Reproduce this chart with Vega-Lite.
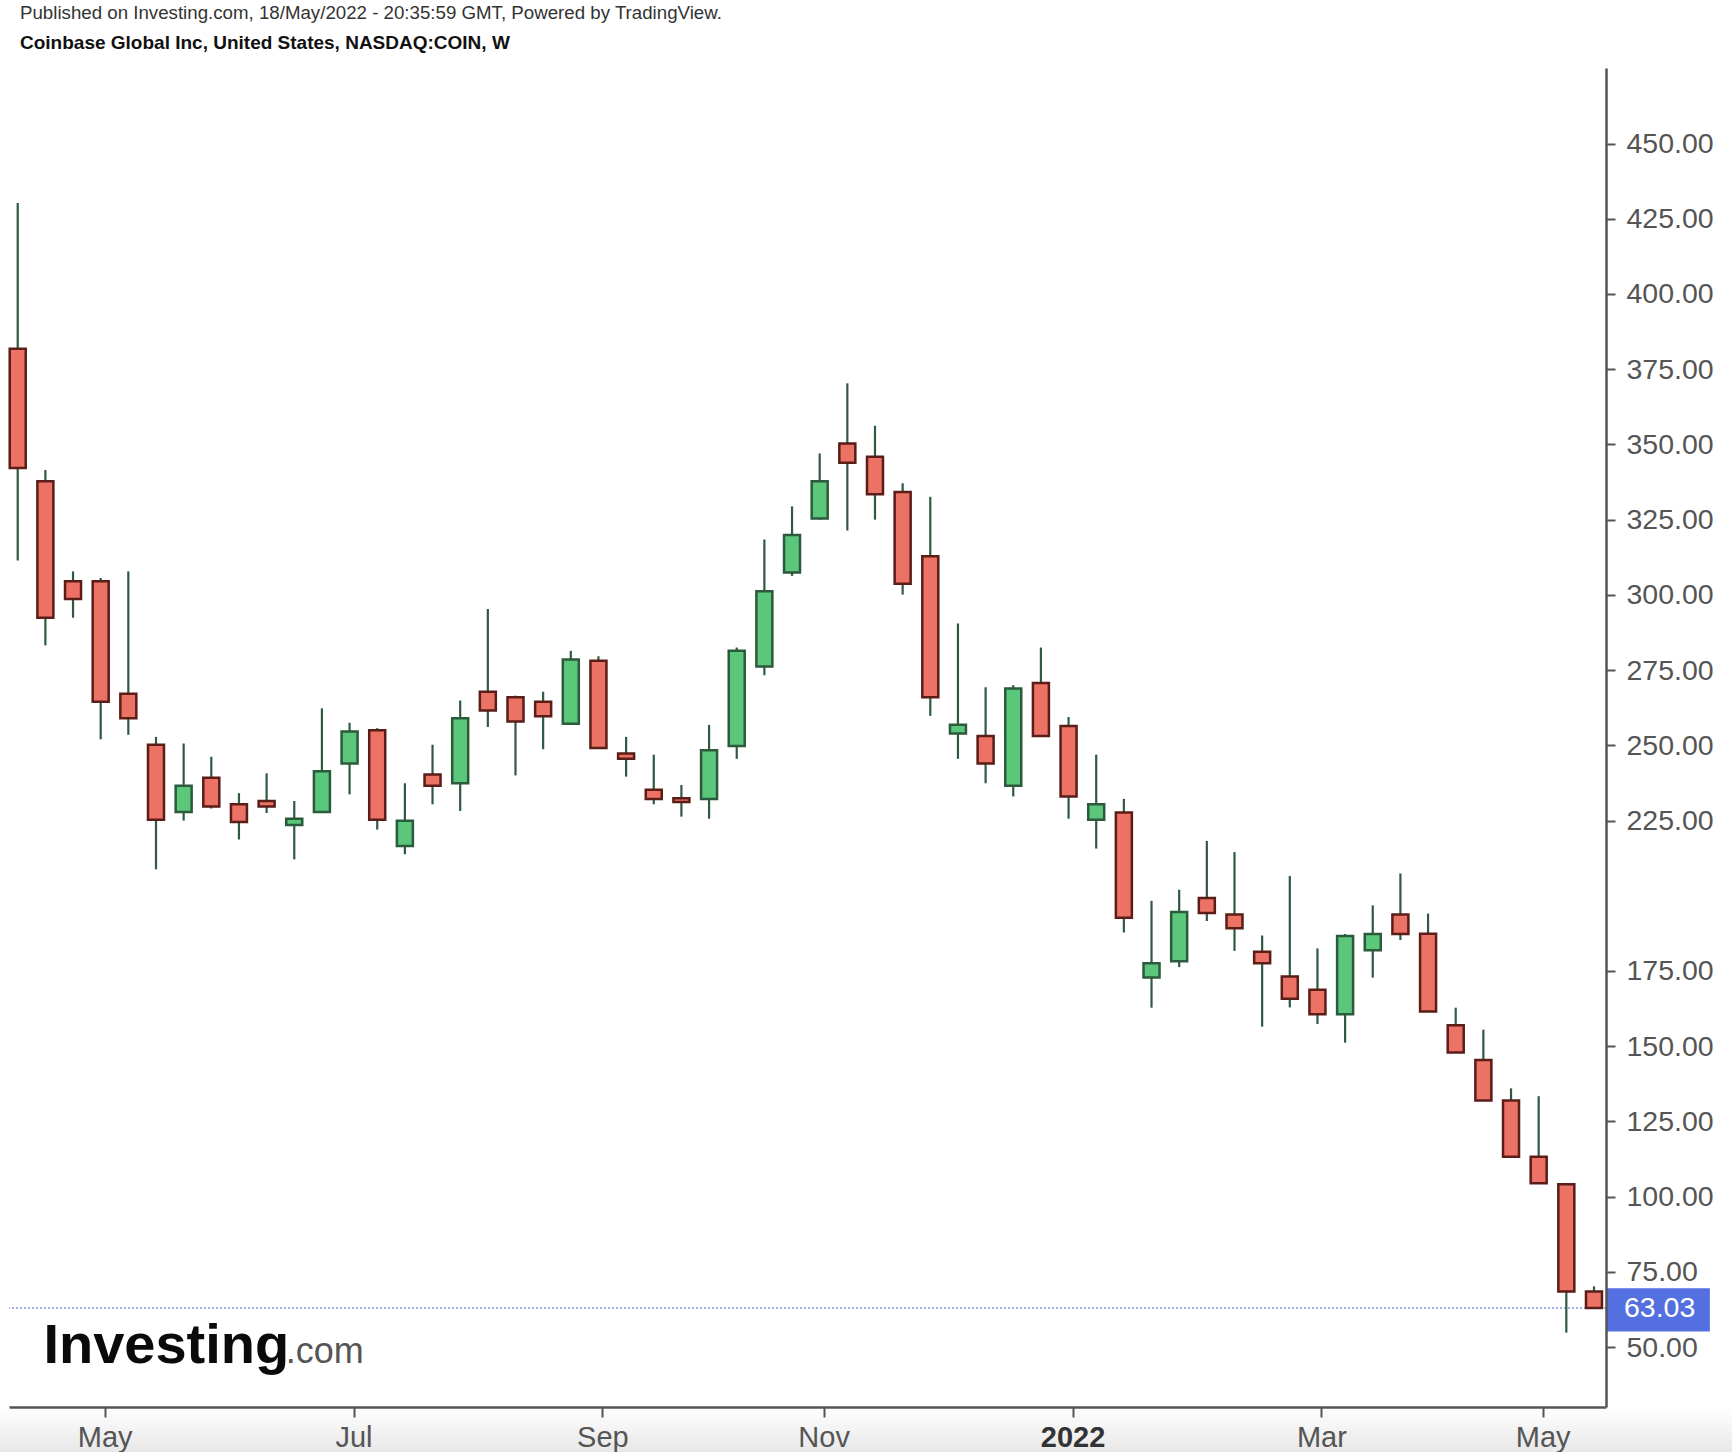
{
  "$schema": "https://vega.github.io/schema/vega-lite/v6.json",
  "width": 1597,
  "height": 1339,
  "autosize": "none",
  "padding": {"left": 9, "top": 68, "right": 126, "bottom": 45},
  "background": "white",
  "config": {"view": {"stroke": null}, "font": "Liberation Sans"},
  "title": {
    "text": "Published on Investing.com, 18/May/2022 - 20:35:59 GMT, Powered by TradingView.",
    "subtitle": "Coinbase Global Inc, United States, NASDAQ:COIN, W",
    "anchor": "start",
    "frame": "group",
    "dx": 11,
    "offset": 15,
    "fontSize": 18.7,
    "fontWeight": "normal",
    "color": "#333333",
    "subtitleFontSize": 19,
    "subtitleFontWeight": "bold",
    "subtitleColor": "#111111",
    "subtitlePadding": 11,
    "font": "Liberation Sans",
    "subtitleFont": "Liberation Sans"
  },
  "datasets": {
    "candles": [
      {"date": "2021-04-12", "open": 381.8, "high": 430.2, "low": 311.4, "close": 342.2},
      {"date": "2021-04-19", "open": 337.8, "high": 341.5, "low": 283.2, "close": 292.4},
      {"date": "2021-04-26", "open": 304.5, "high": 307.8, "low": 292.4, "close": 298.6},
      {"date": "2021-05-03", "open": 304.5, "high": 305.6, "low": 252.0, "close": 264.5},
      {"date": "2021-05-10", "open": 267.1, "high": 307.8, "low": 253.5, "close": 259.0},
      {"date": "2021-05-17", "open": 250.2, "high": 252.8, "low": 208.8, "close": 225.3},
      {"date": "2021-05-24", "open": 227.8, "high": 250.6, "low": 225.0, "close": 236.6},
      {"date": "2021-05-31", "open": 239.2, "high": 246.2, "low": 229.0, "close": 229.7},
      {"date": "2021-06-07", "open": 230.4, "high": 234.1, "low": 218.7, "close": 224.5},
      {"date": "2021-06-14", "open": 231.5, "high": 240.7, "low": 227.5, "close": 229.7},
      {"date": "2021-06-21", "open": 223.5, "high": 231.5, "low": 212.1, "close": 225.6},
      {"date": "2021-06-28", "open": 227.8, "high": 262.3, "low": 227.5, "close": 241.4},
      {"date": "2021-07-05", "open": 244.0, "high": 257.5, "low": 233.7, "close": 254.6},
      {"date": "2021-07-12", "open": 255.0, "high": 255.7, "low": 222.0, "close": 225.3},
      {"date": "2021-07-19", "open": 216.5, "high": 237.4, "low": 213.8, "close": 224.9},
      {"date": "2021-07-26", "open": 240.3, "high": 250.2, "low": 230.4, "close": 236.6},
      {"date": "2021-08-02", "open": 237.4, "high": 264.9, "low": 228.2, "close": 259.0},
      {"date": "2021-08-09", "open": 267.8, "high": 295.3, "low": 256.1, "close": 261.6},
      {"date": "2021-08-16", "open": 266.0, "high": 266.5, "low": 240.0, "close": 257.9},
      {"date": "2021-08-23", "open": 264.5, "high": 267.8, "low": 248.7, "close": 259.7},
      {"date": "2021-08-30", "open": 257.2, "high": 281.4, "low": 257.0, "close": 278.5},
      {"date": "2021-09-06", "open": 278.1, "high": 279.6, "low": 249.0, "close": 249.1},
      {"date": "2021-09-13", "open": 247.3, "high": 252.8, "low": 239.6, "close": 245.5},
      {"date": "2021-09-20", "open": 235.2, "high": 246.9, "low": 230.4, "close": 232.2},
      {"date": "2021-09-27", "open": 232.4, "high": 236.8, "low": 226.3, "close": 231.2},
      {"date": "2021-10-04", "open": 232.2, "high": 256.8, "low": 225.6, "close": 248.4},
      {"date": "2021-10-11", "open": 249.8, "high": 282.5, "low": 245.5, "close": 281.4},
      {"date": "2021-10-18", "open": 276.2, "high": 318.4, "low": 273.3, "close": 301.2},
      {"date": "2021-10-25", "open": 307.4, "high": 329.4, "low": 306.3, "close": 319.9},
      {"date": "2021-11-01", "open": 325.4, "high": 347.0, "low": 325.0, "close": 337.8},
      {"date": "2021-11-08", "open": 350.3, "high": 370.3, "low": 321.4, "close": 343.9},
      {"date": "2021-11-15", "open": 345.9, "high": 356.2, "low": 325.0, "close": 333.4},
      {"date": "2021-11-22", "open": 334.2, "high": 337.1, "low": 300.1, "close": 303.7},
      {"date": "2021-11-29", "open": 312.8, "high": 332.6, "low": 259.8, "close": 266.0},
      {"date": "2021-12-06", "open": 253.9, "high": 290.5, "low": 245.5, "close": 256.8},
      {"date": "2021-12-13", "open": 253.1, "high": 269.3, "low": 237.4, "close": 244.0},
      {"date": "2021-12-20", "open": 236.6, "high": 270.0, "low": 233.0, "close": 268.9},
      {"date": "2021-12-27", "open": 270.7, "high": 282.5, "low": 253.0, "close": 253.1},
      {"date": "2022-01-03", "open": 256.4, "high": 259.4, "low": 225.6, "close": 233.0},
      {"date": "2022-01-10", "open": 225.3, "high": 246.9, "low": 215.7, "close": 230.4},
      {"date": "2022-01-17", "open": 227.7, "high": 232.2, "low": 187.8, "close": 192.7},
      {"date": "2022-01-24", "open": 172.8, "high": 198.3, "low": 162.8, "close": 177.6},
      {"date": "2022-01-31", "open": 178.2, "high": 202.0, "low": 176.3, "close": 194.6},
      {"date": "2022-02-07", "open": 199.3, "high": 218.2, "low": 191.6, "close": 194.3},
      {"date": "2022-02-14", "open": 193.8, "high": 214.5, "low": 181.7, "close": 189.2},
      {"date": "2022-02-21", "open": 181.4, "high": 186.8, "low": 156.5, "close": 177.6},
      {"date": "2022-02-28", "open": 173.2, "high": 206.6, "low": 162.9, "close": 165.8},
      {"date": "2022-03-07", "open": 168.8, "high": 182.5, "low": 157.4, "close": 160.6},
      {"date": "2022-03-14", "open": 160.6, "high": 187.3, "low": 151.2, "close": 186.6},
      {"date": "2022-03-21", "open": 181.9, "high": 196.8, "low": 172.8, "close": 187.3},
      {"date": "2022-03-28", "open": 193.8, "high": 207.4, "low": 185.3, "close": 187.3},
      {"date": "2022-04-04", "open": 187.4, "high": 194.1, "low": 161.5, "close": 161.5},
      {"date": "2022-04-11", "open": 157.0, "high": 162.8, "low": 147.9, "close": 147.9},
      {"date": "2022-04-18", "open": 145.4, "high": 155.5, "low": 132.0, "close": 132.0},
      {"date": "2022-04-25", "open": 132.0, "high": 136.0, "low": 113.3, "close": 113.3},
      {"date": "2022-05-02", "open": 113.3, "high": 133.4, "low": 104.5, "close": 104.5},
      {"date": "2022-05-09", "open": 104.1, "high": 104.5, "low": 54.8, "close": 68.5},
      {"date": "2022-05-16", "open": 68.5, "high": 70.2, "low": 63.03, "close": 63.03}
    ],
    "footer": [
      {"start": "2021-04-01", "end": "2022-06-25", "top": 30.1, "bottom": 14.0}
    ],
    "price": [
      {"start": "2022-05-19T01:00:00Z", "end": "2022-06-14T08:00:00Z", "top": 69.6, "bottom": 55.2, "value": 63.03, "label": "63.03"}
    ],
    "logo": [
      {"date": "2021-04-18T12:00:00Z", "value": 44.8, "label": "Investing"}
    ],
    "logoDotCom": [
      {"date": "2021-06-18T20:00:00Z", "value": 44.8, "label": ".com"}
    ]
  },
  "layer": [
    {
      "data": {"name": "footer"},
      "mark": {
        "type": "rect",
        "fill": {
          "gradient": "linear",
          "x1": 0, "y1": 0, "x2": 0, "y2": 1,
          "stops": [
            {"offset": 0, "color": "#ffffff"},
            {"offset": 1, "color": "#e6e6e6"}
          ]
        }
      },
      "encoding": {
        "x": {"field": "start", "type": "temporal"},
        "x2": {"field": "end"},
        "y": {"field": "top", "type": "quantitative"},
        "y2": {"field": "bottom"}
      }
    },
    {
      "data": {"name": "price"},
      "mark": {"type": "rule", "color": "#7f97ea", "strokeWidth": 1.5, "strokeDash": [2, 2]},
      "encoding": {
        "y": {"field": "value", "type": "quantitative"}
      }
    },
    {
      "data": {"name": "candles"},
      "mark": {"type": "rule", "color": "#2e5a3f", "strokeWidth": 2.2},
      "encoding": {
        "x": {
          "field": "date",
          "type": "temporal",
          "scale": {
            "type": "utc",
            "padding": 0,
            "nice": false,
            "domain": [
              {"year": 2021, "month": 4, "date": 9, "hours": 19, "utc": true},
              {"year": 2022, "month": 5, "date": 19, "hours": 1, "utc": true}
            ]
          },
          "axis": {
            "title": null,
            "grid": false,
            "zindex": 1,
            "values": [
              {"year": 2021, "month": 5, "date": 4, "utc": true},
              {"year": 2021, "month": 7, "date": 6, "utc": true},
              {"year": 2021, "month": 9, "date": 7, "utc": true},
              {"year": 2021, "month": 11, "date": 2, "utc": true},
              {"year": 2022, "month": 1, "date": 4, "utc": true},
              {"year": 2022, "month": 3, "date": 8, "utc": true},
              {"year": 2022, "month": 5, "date": 3, "utc": true}
            ],
            "labelExpr": "utcmonth(datum.value) == 0 ? utcFormat(datum.value, '%Y') : utcFormat(datum.value, '%b')",
            "labelFont": "Liberation Sans",
            "labelFontSize": 29,
            "labelColor": {"condition": {"test": "utcmonth(datum.value) == 0", "value": "#333333"}, "value": "#555555"},
            "labelFontWeight": {"condition": {"test": "utcmonth(datum.value) == 0", "value": "bold"}, "value": "normal"},
            "labelPadding": 6,
            "labelFlush": false,
            "labelOverlap": false,
            "tickSize": 10,
            "tickWidth": 2,
            "tickColor": "#555555",
            "domainColor": "#555555",
            "domainWidth": 2.5
          }
        },
        "y": {
          "field": "low",
          "type": "quantitative",
          "scale": {"domain": [30.1, 475.1], "nice": false, "zero": false, "padding": 0},
          "axis": {
            "orient": "right",
            "title": null,
            "grid": false,
            "zindex": 1,
            "values": [50, 75, 100, 125, 150, 175, 225, 250, 275, 300, 325, 350, 375, 400, 425, 450],
            "format": ".2f",
            "labelFont": "Liberation Sans",
            "labelFontSize": 28.5,
            "labelColor": "#555555",
            "labelPadding": 11,
            "labelOverlap": false,
            "labelFlush": false,
            "tickSize": 9,
            "tickWidth": 2,
            "tickColor": "#555555",
            "domainColor": "#555555",
            "domainWidth": 2.5
          }
        },
        "y2": {"field": "high"}
      }
    },
    {
      "data": {"name": "candles"},
      "mark": {"type": "bar", "width": 16, "strokeWidth": 2.5},
      "encoding": {
        "x": {"field": "date", "type": "temporal"},
        "y": {"field": "open", "type": "quantitative"},
        "y2": {"field": "close"},
        "fill": {"condition": {"test": "datum.close > datum.open", "value": "#5ac77a"}, "value": "#ec7266"},
        "stroke": {"condition": {"test": "datum.close > datum.open", "value": "#2c5a3c"}, "value": "#5a1d17"}
      }
    },
    {
      "data": {"name": "price"},
      "mark": {"type": "rect", "fill": "#5470e0"},
      "encoding": {
        "x": {"field": "start", "type": "temporal"},
        "x2": {"field": "end"},
        "y": {"field": "top", "type": "quantitative"},
        "y2": {"field": "bottom"}
      }
    },
    {
      "data": {"name": "price"},
      "mark": {"type": "text", "align": "left", "baseline": "middle", "dx": 18, "fontSize": 28.5, "fill": "#ffffff", "font": "Liberation Sans"},
      "encoding": {
        "x": {"field": "start", "type": "temporal"},
        "y": {"field": "value", "type": "quantitative"},
        "text": {"field": "label"}
      }
    },
    {
      "data": {"name": "logo"},
      "mark": {"type": "text", "align": "left", "baseline": "alphabetic", "fontSize": 56, "fontWeight": "bold", "fill": "#0a0a0a", "font": "Liberation Sans", "letterSpacing": -0.9},
      "encoding": {
        "x": {"field": "date", "type": "temporal"},
        "y": {"field": "value", "type": "quantitative"},
        "text": {"field": "label"}
      }
    },
    {
      "data": {"name": "logoDotCom"},
      "mark": {"type": "text", "align": "left", "baseline": "alphabetic", "fontSize": 36, "fill": "#555555", "font": "Liberation Sans"},
      "encoding": {
        "x": {"field": "date", "type": "temporal"},
        "y": {"field": "value", "type": "quantitative"},
        "text": {"field": "label"}
      }
    }
  ]
}
